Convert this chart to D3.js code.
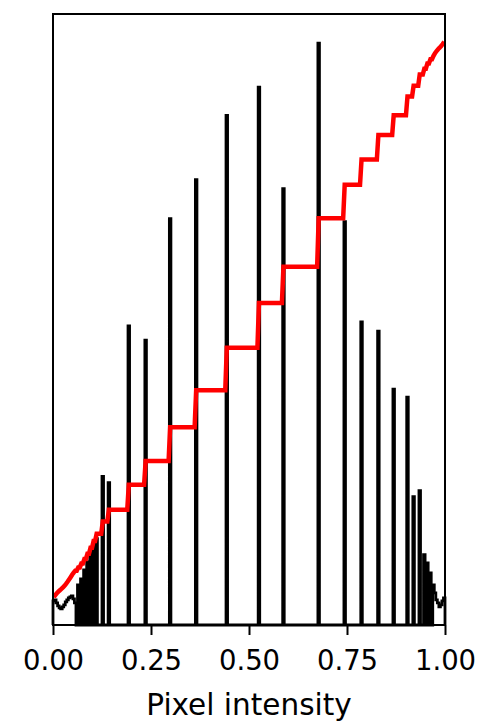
<!DOCTYPE html>
<html>
<head>
<meta charset="utf-8">
<script src="https://cdn.jsdelivr.net/npm/d3@7"></script>
<style>
  body { margin: 0; background: #fff; }
  text { font-family: "DejaVu Sans", sans-serif; }
</style>
</head>
<body>
<div id="hist"></div>
<script>
// 256 bins over [0, 1]
var binCount = 256;

// low tail, bins 0..30
var lowTailCounts = [24, 25, 22, 19, 17, 16, 18, 20, 23, 25, 27, 28, 29, 26, 22,
  0, 40, 0, 46, 0, 55, 0, 63, 0, 72, 0, 80, 0, 86, 0, 0];

// isolated spikes
var spikeBins = [32, 36, 49, 60, 76, 93, 113, 134, 150, 173, 190, 201, 212, 222, 231, 235, 239];
var spikeCounts = [148, 142, 298, 284, 405, 444, 508, 536, 435, 580, 402, 302, 293, 235, 227, 128, 134];

// high tail, bins 241..255
var highTailStart = 241;
var highTailCounts = [0, 70, 0, 62, 0, 52, 0, 40, 32, 25, 22, 18, 20, 24, 27];

var xTicks = [0, 0.25, 0.5, 0.75, 1];

var margin = { top: 14, right: 34, bottom: 99, left: 53 },
  width = 479 - margin.left - margin.right,
  height = 724 - margin.top - margin.bottom;

var counts = new Array(binCount).fill(0);
lowTailCounts.forEach(function (c, i) { counts[i] = c; });
spikeBins.forEach(function (b, i) { counts[b] = spikeCounts[i]; });
highTailCounts.forEach(function (c, i) { counts[highTailStart + i] = c; });

var total = d3.sum(counts);
var cum = d3.cumsum(counts);
var cdf = Array.from(cum, function (v, i) {
  return { x: (i + 0.5) / binCount, y: v / total };
});

var svg = d3.select("#hist")
  .append("svg")
  .attr("width", width + margin.left + margin.right)
  .attr("height", height + margin.top + margin.bottom)
  .append("g")
  .attr("transform", "translate(" + margin.left + "," + margin.top + ")");

var xScale = d3.scaleLinear()
  .domain([0, 1])
  .range([0, width]);

var yScale = d3.scaleLinear()
  .domain([0, d3.max(counts) * 1.05])
  .range([height, 0]);

var c0 = cdf[0].y, pad = (1 - c0) * 0.05;
var cdfScale = d3.scaleLinear()
  .domain([c0 - pad, 1 + pad])
  .range([height, 0]);

// step outline of histogram
var pts = [[0, 0]];
counts.forEach(function (c, i) {
  pts.push([i / binCount, c]);
  pts.push([(i + 1) / binCount, c]);
});
pts.push([1, 0]);

svg.append("path")
  .datum(pts)
  .attr("fill", "none")
  .attr("stroke", "black")
  .attr("stroke-width", 2.8)
  .attr("d", d3.line()
    .x(function (d) { return xScale(d[0]); })
    .y(function (d) { return yScale(d[1]); }));

svg.append("path")
  .datum(cdf)
  .attr("fill", "none")
  .attr("stroke", "#ff0000")
  .attr("stroke-width", 4.5)
  .attr("d", d3.line()
    .x(function (d) { return xScale(d.x); })
    .y(function (d) { return cdfScale(d.y); }));

// frame
svg.append("rect")
  .attr("width", width)
  .attr("height", height)
  .attr("fill", "none")
  .attr("stroke", "black")
  .attr("stroke-width", 2);

var xAxis = svg.append('g')
  .attr("transform", "translate(0," + height + ")")
  .call(d3.axisBottom(xScale)
    .tickValues(xTicks)
    .tickFormat(d3.format(".2f"))
    .tickSize(10)
    .tickPadding(15));

xAxis.select(".domain").remove();
xAxis.selectAll("line").attr("stroke-width", 2);
xAxis.selectAll("text")
  .attr("font-size", 27.5)
  .attr("fill", "#000")
  .style("font-family", "DejaVu Sans");

svg.append("text")
  .attr("x", width / 2)
  .attr("y", height + 90)
  .attr("text-anchor", "middle")
  .attr("font-size", 29.5)
  .text("Pixel intensity");
</script>
</body>
</html>
